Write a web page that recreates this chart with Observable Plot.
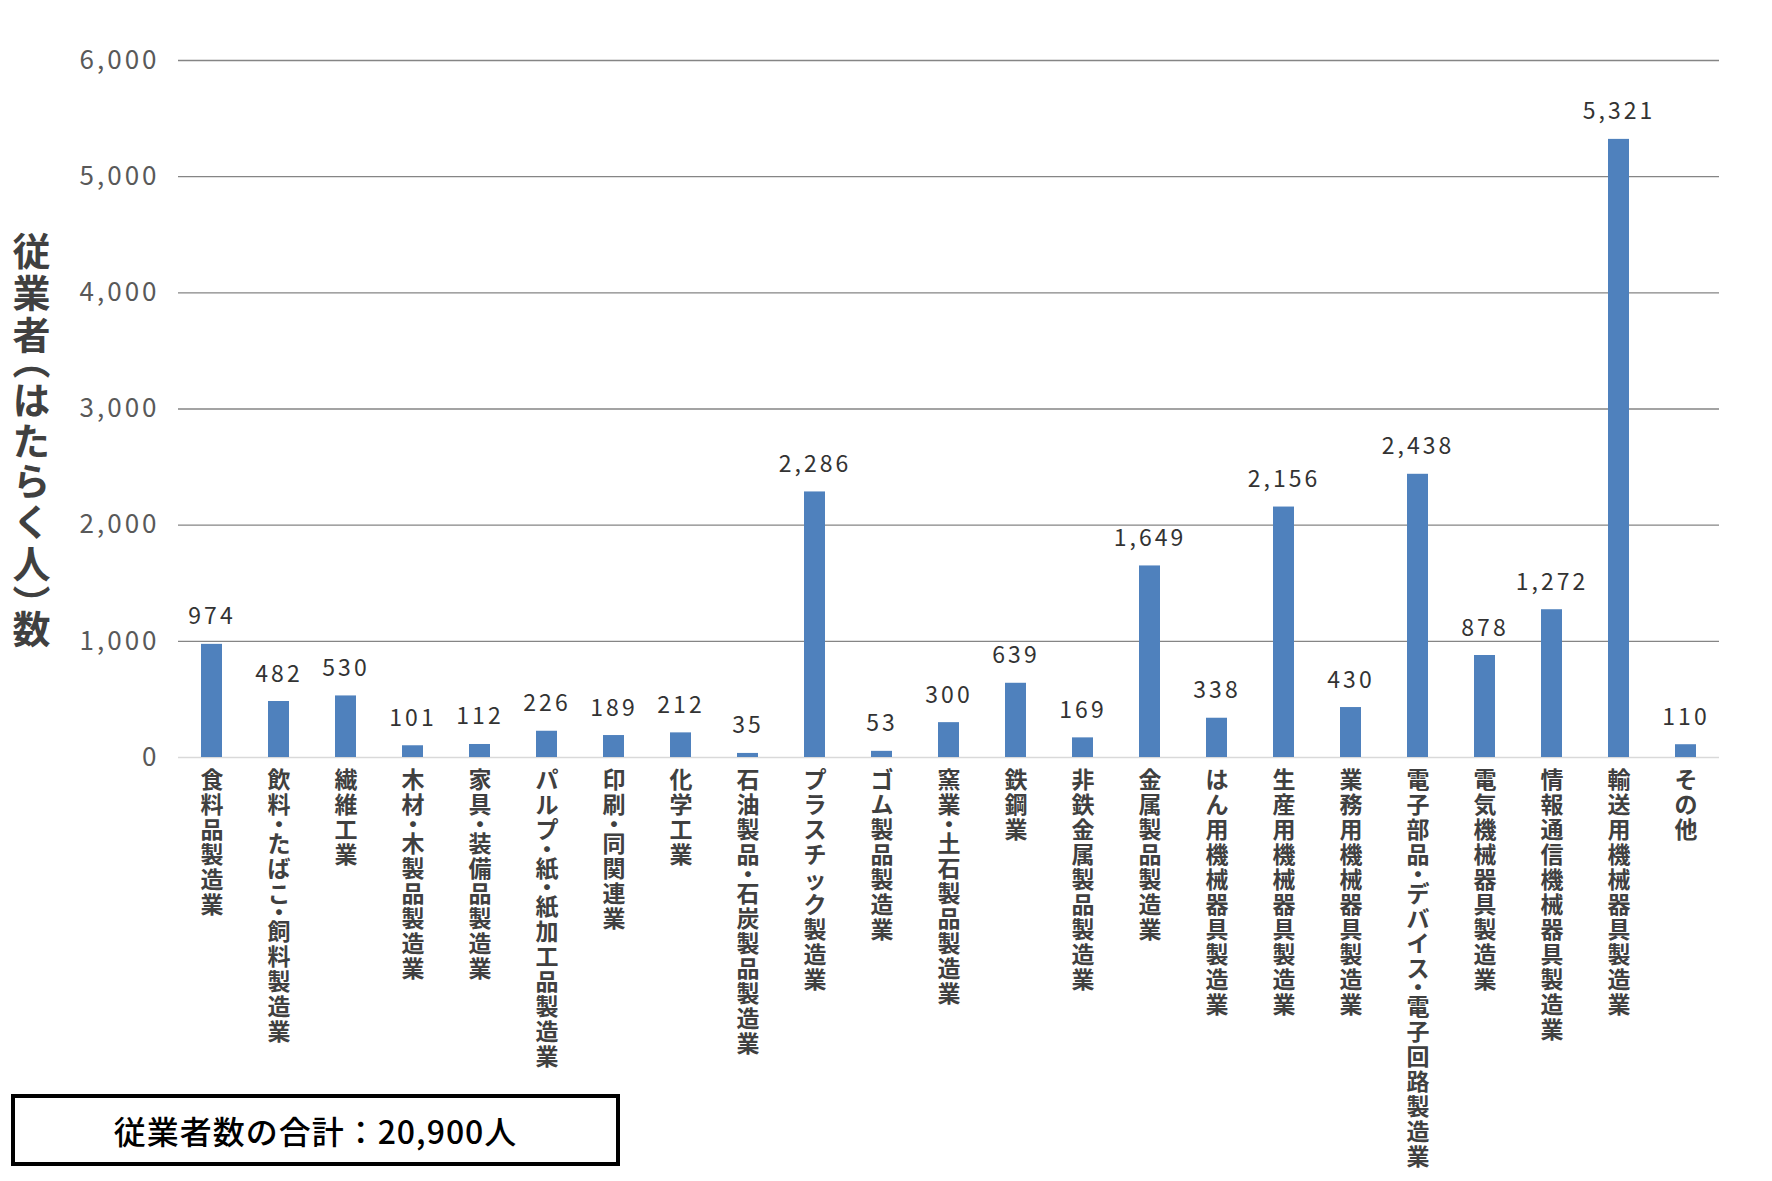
<!DOCTYPE html>
<html>
<head>
<meta charset="utf-8">
<script src="https://cdn.jsdelivr.net/npm/d3@7"></script>
<script src="https://cdn.jsdelivr.net/npm/@observablehq/plot@0.6"></script>
<style>
  html, body { margin: 0; padding: 0; background: #fff; }
  #wrap { position: relative; width: 1772px; height: 1181px; overflow: hidden; font-family: "Noto Sans CJK JP", sans-serif; }
  #ylabel { position: absolute; left: 12px; top: 232px; writing-mode: vertical-rl; font-size: 38px; font-weight: bold; color: #404040; line-height: 1; letter-spacing: 4px; font-feature-settings: "vpal" 1; }
  #total { position: absolute; left: 11px; top: 1094px; width: 609px; height: 72px; box-sizing: border-box; border: 4px solid #000; display: flex; align-items: center; justify-content: center; font-size: 32px; font-weight: 500; color: #000; letter-spacing: 1px; }
</style>
</head>
<body>
<div id="wrap">
  <div id="chart"></div>
  <div id="ylabel">従業者（はたらく人）数</div>
  <div id="total">従業者数の合計：20,900人</div>
</div>
<script>
const categories = [
  "食料品製造業", "飲料・たばこ・飼料製造業", "繊維工業", "木材・木製品製造業", "家具・装備品製造業",
  "パルプ・紙・紙加工品製造業", "印刷・同関連業", "化学工業", "石油製品・石炭製品製造業", "プラスチック製造業",
  "ゴム製品製造業", "窯業・土石製品製造業", "鉄鋼業", "非鉄金属製品製造業", "金属製品製造業",
  "はん用機械器具製造業", "生産用機械器具製造業", "業務用機械器具製造業", "電子部品・デバイス・電子回路製造業", "電気機械器具製造業",
  "情報通信機械器具製造業", "輸送用機械器具製造業", "その他"
];
const values = [974, 482, 530, 101, 112, 226, 189, 212, 35, 2286, 53, 300, 639, 169, 1649, 338, 2156, 430, 2438, 878, 1272, 5321, 110];
const yTicks = [0, 1000, 2000, 3000, 4000, 5000, 6000];

const data = categories.map((c, i) => ({category: c, value: values[i]}));
const fmt = d3.format(",");
const labelLineHeight = 1.087;

const chart = Plot.plot({
  width: 1772,
  height: 1181,
  marginTop: 60,
  marginBottom: 424,
  marginLeft: 178,
  marginRight: 53,
  style: { fontFamily: "'Noto Sans CJK JP', sans-serif", background: "white" },
  x: { domain: categories, paddingInner: 0.68, paddingOuter: 0.34, axis: null },
  y: { domain: [0, 6000], axis: null },
  marks: [
    Plot.gridY(yTicks.filter(d => d > 0), { stroke: "#858585", strokeOpacity: 1, strokeWidth: 1.3 }),
    Plot.ruleY([0], { stroke: "#d9d9d9", strokeWidth: 1.5 }),
    Plot.barY(data, { x: "category", y: "value", fill: "#4f81bd" }),
    Plot.text(data, { x: "category", y: "value", text: d => fmt(d.value), dy: -20, lineAnchor: "bottom", fontSize: 23, fill: "#333333" }),
    Plot.axisY({ ticks: yTicks, tickFormat: fmt, tickSize: 0, tickPadding: 19, fontSize: 26, fill: "#595959", label: null }),
    Plot.axisX({ tickSize: 0, tickPadding: 13, tickFormat: d => [...d].join("\n"), lineHeight: labelLineHeight, fontSize: 23, fontWeight: "bold", fill: "#404040", label: null })
  ]
});

document.getElementById("chart").appendChild(chart);
d3.select(chart).selectAll('g[aria-label="text"] text').style("letter-spacing", "3px");
d3.select(chart).selectAll('g[aria-label="y-axis tick label"] text').style("letter-spacing", "3px");

// vertical label spacing: the middle dot takes about half a line, as in vertical Japanese typesetting
d3.select(chart).selectAll('g[aria-label="x-axis tick label"] text').each(function () {
  const spans = Array.from(this.querySelectorAll("tspan"));
  if (!spans.length) return;
  const y0 = 0.71 * labelLineHeight;
  const heights = spans.map(s => (s.textContent === "・" ? 0.54 : 1) * labelLineHeight);
  let acc = 0;
  const c0 = heights[0] / 2;
  spans.forEach((s, i) => {
    const center = acc + heights[i] / 2;
    s.removeAttribute("dy");
    s.setAttribute("y", `${y0 + center - c0}em`);
    acc += heights[i];
  });
});
</script>
</body>
</html>
